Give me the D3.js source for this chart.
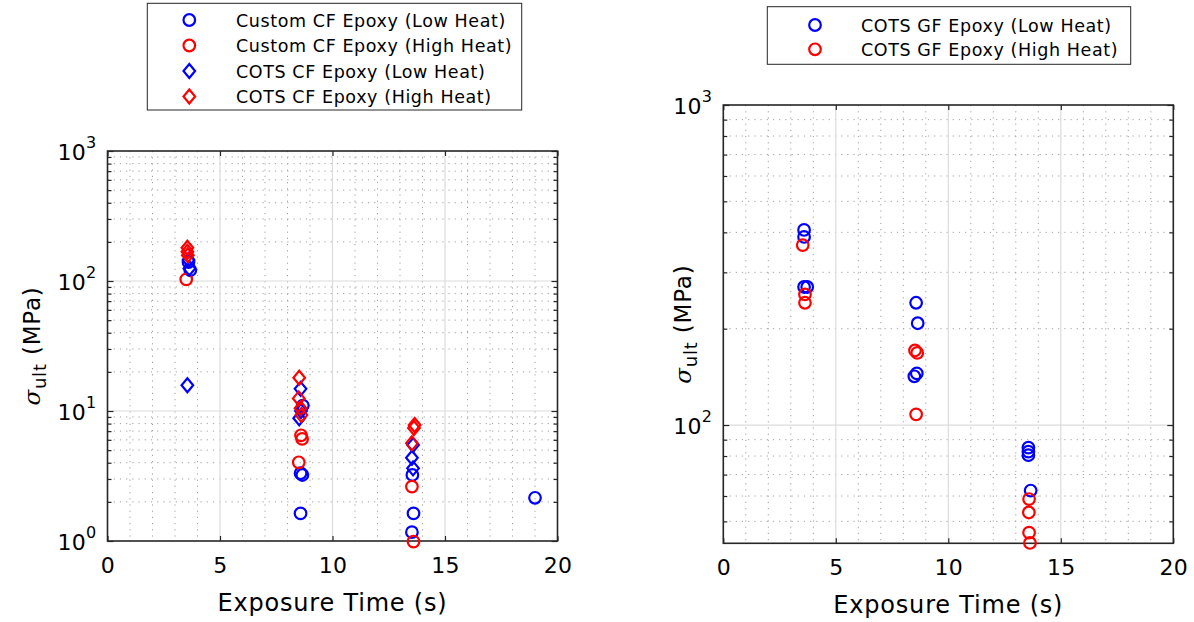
<!DOCTYPE html>
<html>
<head>
<meta charset="utf-8">
<script src="https://cdn.jsdelivr.net/npm/d3@7"></script>
<style>
  body { margin: 0; background: #fff; }
  text { font-family: "DejaVu Sans", Verdana, sans-serif; fill: #000; }
</style>
</head>
<body>
<svg id="chart" width="1194" height="622"></svg>
<script>
// ---------------- Data ----------------
// Left panel: CF epoxies
const customCFLowX  = [3.60, 3.68, 8.68, 8.58, 8.66, 8.58, 13.55, 13.60, 13.53, 19.0];
const customCFLowY  = [140, 121, 11.0, 3.32, 3.22, 1.63, 3.22, 1.63, 1.17, 2.15];
const customCFHighX = [3.50, 8.60, 8.65, 8.50, 13.53, 13.60];
const customCFHighY = [103, 6.5, 6.1, 4.03, 2.62, 0.99];
const cotsCFLowX    = [3.60, 3.64, 3.55, 8.58, 8.60, 8.52, 13.58, 13.53, 13.58];
const cotsCFLowY    = [145, 125, 15.8, 14.8, 10.0, 8.8, 5.47, 4.37, 3.62];
const cotsCFHighX   = [3.55, 3.55, 3.57, 8.52, 8.50, 8.58, 8.62, 13.65, 13.62, 13.53];
const cotsCFHighY   = [180, 168, 158, 18.0, 12.5, 10.5, 9.3, 7.8, 7.4, 5.64];

// Right panel: GF epoxy
const cotsGFLowX  = [3.59, 3.59, 3.59, 3.73, 8.57, 8.64, 8.49, 8.60, 13.56, 13.56, 13.56, 13.66];
const cotsGFLowY  = [407, 387, 270, 270, 241, 208, 142, 145, 85, 82.6, 80.5, 62.4];
const cotsGFHighX = [3.53, 3.63, 3.63, 8.52, 8.62, 8.57, 13.59, 13.58, 13.59, 13.63];
const cotsGFHighY = [365, 256, 241, 171, 168, 108, 58.7, 53.3, 46.1, 42.8];

// Axis settings / tick labels
const xDomain = [0, 20];
const xTicks = [0, 5, 10, 15, 20];
const leftYDomain = [1, 1000];
const leftYTickExp = [0, 1, 2, 3];
const rightYDomain = [42.7, 1000];
const rightYTickExp = [2, 3];

const leftLegend = ["Custom CF Epoxy (Low Heat)", "Custom CF Epoxy (High Heat)", "COTS CF Epoxy (Low Heat)", "COTS CF Epoxy (High Heat)"];
const rightLegend = ["COTS GF Epoxy (Low Heat)", "COTS GF Epoxy (High Heat)"];
const xLabel = "Exposure Time (s)";

const BLUE = "#0000ff", RED = "#ff0000";

// ---------------- Drawing ----------------
const svg = d3.select("#chart");

function zip(xs, ys) { return xs.map((x, i) => ({x, y: ys[i]})); }

function drawMarker(g, x, y, shape, color) {
  if (shape === "circle") {
    g.append("circle").attr("cx", x).attr("cy", y).attr("r", 5.8)
      .attr("fill", "none").attr("stroke", color).attr("stroke-width", 2.2);
  } else {
    g.append("path").attr("transform", `translate(${x},${y})`).attr("d", "M0,-7L5.8,0L0,7L-5.8,0Z")
      .attr("fill", "none").attr("stroke", color).attr("stroke-width", 2.2);
  }
}

function panel(opts) {
  const {left, top, width, height, yDomain, yTickExp, series, ylabelX} = opts;
  const g = svg.append("g").attr("transform", `translate(${left},${top})`);
  const x = d3.scaleLinear().domain(xDomain).range([0, width]);
  const y = d3.scaleLog().domain(yDomain).range([height, 0]);

  const xMinor = d3.range(1, 20).filter(v => v % 5 !== 0);
  const yAll = [];
  for (let e = -1; e <= 3; e++) for (let m = 1; m <= 9; m++) yAll.push(m * Math.pow(10, e));
  const isDecade = v => Math.abs(Math.log10(v) - Math.round(Math.log10(v))) < 1e-9;
  const yMinor = yAll.filter(v => v > yDomain[0] && v < yDomain[1] && !isDecade(v));
  const yMajor = yAll.filter(v => v >= yDomain[0] * 0.9999 && v <= yDomain[1] * 1.0001 && isDecade(v));

  // minor grid (dotted)
  g.append("g").selectAll("line").data(xMinor).join("line")
    .attr("x1", d => x(d)).attr("x2", d => x(d)).attr("y1", 0).attr("y2", height)
    .attr("stroke", "#a0a0a0").attr("stroke-width", 1).attr("stroke-dasharray", "1.2,5");
  g.append("g").selectAll("line").data(yMinor).join("line")
    .attr("x1", 0).attr("x2", width).attr("y1", d => y(d)).attr("y2", d => y(d))
    .attr("stroke", "#a0a0a0").attr("stroke-width", 1).attr("stroke-dasharray", "1.2,5");
  // major grid
  g.append("g").selectAll("line").data(xTicks.slice(1, -1)).join("line")
    .attr("x1", d => x(d)).attr("x2", d => x(d)).attr("y1", 0).attr("y2", height)
    .attr("stroke", "#dcdcdc").attr("stroke-width", 1.2);
  g.append("g").selectAll("line").data(yMajor.filter(v => v > yDomain[0] * 1.0001 && v < yDomain[1] * 0.9999)).join("line")
    .attr("x1", 0).attr("x2", width).attr("y1", d => y(d)).attr("y2", d => y(d))
    .attr("stroke", "#dcdcdc").attr("stroke-width", 1.2);

  // axes with inward ticks
  const tickCol = "#262626";
  const bottom = g.append("g").attr("transform", `translate(0,${height})`)
    .call(d3.axisBottom(x).tickValues(xTicks).tickSize(-5).tickPadding(16).tickFormat(d3.format("d")));
  const topAx = g.append("g").call(d3.axisTop(x).tickValues(xTicks).tickSize(-5).tickFormat(""));
  const leftAx = g.append("g").call(d3.axisLeft(y).tickValues(yMajor).tickSize(-6).tickFormat(""));
  const leftMin = g.append("g").call(d3.axisLeft(y).tickValues(yMinor).tickSize(-4).tickFormat(""));
  const rightAx = g.append("g").attr("transform", `translate(${width},0)`)
    .call(d3.axisRight(y).tickValues(yMajor).tickSize(-6).tickFormat(""));
  const rightMin = g.append("g").attr("transform", `translate(${width},0)`)
    .call(d3.axisRight(y).tickValues(yMinor).tickSize(-4).tickFormat(""));
  [bottom, topAx, leftAx, leftMin, rightAx, rightMin].forEach(a => {
    a.select(".domain").remove();
    a.selectAll(".tick line").attr("stroke", tickCol).attr("stroke-width", 1.2);
  });
  bottom.selectAll(".tick text").attr("font-size", 22).attr("letter-spacing", 0.3)
    .attr("font-family", "DejaVu Sans").attr("fill", "#000");

  // y tick labels 10^n
  const yl = g.append("g");
  yTickExp.forEach(e => {
    const t = yl.append("text").attr("x", -11).attr("y", y(Math.pow(10, e)) + 9)
      .attr("text-anchor", "end").attr("font-size", 22).attr("letter-spacing", 0.3);
    t.append("tspan").text("10");
    t.append("tspan").attr("dy", -12).attr("font-size", 16).text(String(e));
  });

  // frame
  g.append("rect").attr("x", 0).attr("y", 0).attr("width", width).attr("height", height)
    .attr("fill", "none").attr("stroke", tickCol).attr("stroke-width", 1.6);

  // data
  const dg = g.append("g");
  series.forEach(s => {
    zip(s.xs, s.ys).forEach(p => drawMarker(dg, x(p.x), y(p.y), s.shape, s.color));
  });

  // x label
  g.append("text").attr("x", width / 2).attr("y", height + 70)
    .attr("text-anchor", "middle").attr("font-size", 24).attr("letter-spacing", 0.8).text(xLabel);

  // y label
  const yt = g.append("text").attr("transform", `translate(${ylabelX},${height / 2}) rotate(-90)`)
    .attr("text-anchor", "middle").attr("font-size", 23).attr("letter-spacing", 0.8);
  yt.append("tspan").attr("font-style", "italic").attr("font-family", "DejaVu Serif").text("σ");
  yt.append("tspan").attr("font-size", 18).attr("dy", 6).text("ult");
  yt.append("tspan").attr("dy", -6).text(" (MPa)");
}

function legend(opts) {
  const {x0, y0, w, h, markerX, textX, rowY, items} = opts;
  const g = svg.append("g");
  g.append("rect").attr("x", x0).attr("y", y0).attr("width", w).attr("height", h)
    .attr("fill", "#fff").attr("stroke", "#262626").attr("stroke-width", 1);
  items.forEach((it, i) => {
    drawMarker(g, markerX, rowY[i], it.shape, it.color);
    g.append("text").attr("x", textX).attr("y", rowY[i] + 6.5).attr("font-size", 17.5)
      .attr("letter-spacing", 0.6).text(it.label);
  });
}

panel({
  left: 107.5, top: 151, width: 450, height: 390,
  yDomain: leftYDomain, yTickExp: leftYTickExp, ylabelX: -68,
  series: [
    {xs: customCFLowX, ys: customCFLowY, shape: "circle", color: BLUE},
    {xs: customCFHighX, ys: customCFHighY, shape: "circle", color: RED},
    {xs: cotsCFLowX, ys: cotsCFLowY, shape: "diamond", color: BLUE},
    {xs: cotsCFHighX, ys: cotsCFHighY, shape: "diamond", color: RED}
  ]
});

panel({
  left: 723.3, top: 105, width: 450, height: 438.3,
  yDomain: rightYDomain, yTickExp: rightYTickExp, ylabelX: -32,
  series: [
    {xs: cotsGFLowX, ys: cotsGFLowY, shape: "circle", color: BLUE},
    {xs: cotsGFHighX, ys: cotsGFHighY, shape: "circle", color: RED}
  ]
});

legend({
  x0: 147.3, y0: 3.3, w: 374.4, h: 106.7, markerX: 189.3, textX: 236,
  rowY: [20, 45.5, 71, 96.5],
  items: [
    {label: leftLegend[0], shape: "circle", color: BLUE},
    {label: leftLegend[1], shape: "circle", color: RED},
    {label: leftLegend[2], shape: "diamond", color: BLUE},
    {label: leftLegend[3], shape: "diamond", color: RED}
  ]
});

legend({
  x0: 767.3, y0: 6.7, w: 363.4, h: 57.6, markerX: 815, textX: 861,
  rowY: [25, 49.3],
  items: [
    {label: rightLegend[0], shape: "circle", color: BLUE},
    {label: rightLegend[1], shape: "circle", color: RED}
  ]
});
</script>
</body>
</html>
